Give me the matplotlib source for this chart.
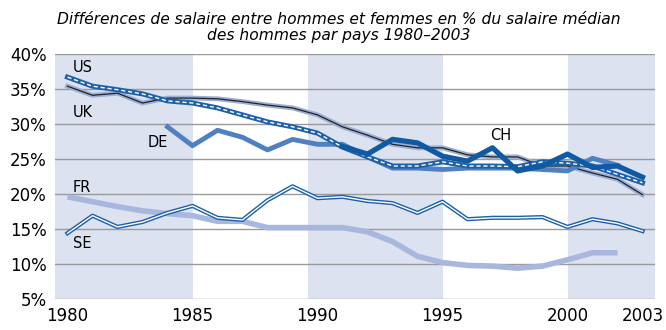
import matplotlib
matplotlib.use("Agg")
import matplotlib.pyplot as plt

# Données (en % du salaire médian des hommes)
annees = list(range(1980, 2004))
us = [36.7, 35.4, 34.9, 34.3, 33.3, 33.0, 32.3, 31.3, 30.3, 29.6, 28.7, 26.7,
      25.3, 24.0, 24.0, 24.6, 24.0, 24.0, 23.9, 24.6, 24.4, 24.0, 22.8, 21.6]
uk = [35.4, 34.1, 34.4, 33.0, 33.7, 33.7, 33.6, 33.2, 32.7, 32.3, 31.3, 29.6,
      28.4, 27.1, 26.6, 26.6, 25.6, 25.3, 25.3, 24.0, 24.0, 23.0, 22.1, 19.9]
annees_de = list(range(1984, 2003))
de = [29.6, 26.9, 29.1, 28.1, 26.3, 27.8, 27.1, 27.1, 25.3, 23.7, 23.7, 23.5,
      23.7, 23.7, 23.7, 23.5, 23.3, 25.1, 24.1]
annees_ch = list(range(1991, 2004))
ch = [26.8, 25.7, 27.8, 27.3, 25.4, 24.7, 26.6, 23.3, 24.0, 25.7, 23.8, 24.0, 22.4]
annees_fr = list(range(1980, 2003))
fr = [19.6, 18.9, 18.2, 17.6, 17.2, 16.9, 16.1, 16.1, 15.2, 15.2, 15.2, 15.2,
      14.6, 13.2, 11.1, 10.2, 9.8, 9.7, 9.4, 9.7, 10.6, 11.6, 11.6]
se = [14.4, 16.9, 15.3, 16.0, 17.3, 18.3, 16.6, 16.3, 19.1, 21.1, 19.4, 19.6,
      19.0, 18.7, 17.3, 18.9, 16.4, 16.6, 16.6, 16.7, 15.3, 16.4, 15.8, 14.7]

periodes = [(1979.5, 1985), (1989.6, 1995), (2000, 2003.5)]
graduations_x = [1980, 1985, 1990, 1995, 2000, 2003]
graduations_y = [5, 10, 15, 20, 25, 30, 35, 40]

fig = plt.figure(figsize=(6.66, 3.30), dpi=100)
ax = fig.add_axes([55 / 666, 31 / 330, 600 / 666, 245 / 330])

for debut, fin in periodes:
    ax.axvspan(debut, fin, color="#dce2ef", zorder=0, lw=0)
for v in graduations_y:
    ax.axhline(v, color="#9a9a9a", lw=1.0, zorder=1)

# FR : trait clair épais
ax.plot(annees_fr, fr, color="#a7b7de", lw=4, solid_capstyle="butt", zorder=2)
# SE : double trait (bleu avec coeur blanc)
ax.plot(annees, se, color="#1b60a8", lw=3.0, zorder=3)
ax.plot(annees, se, color="white", lw=1.0, zorder=3)
# UK : trait noir fin avec halo
ax.plot(annees, uk, color="#9cafd6", lw=3.5, zorder=3)
ax.plot(annees, uk, color="#222222", lw=0.9, zorder=3)
# DE
ax.plot(annees_de, de, color="#4f80c2", lw=3.5, zorder=4)
# US : bleu avec tirets blancs
ax.plot(annees, us, color="#1b60a8", lw=3.6, zorder=5)
ax.plot(annees, us, color="white", lw=1.0, ls=(0, (3, 2)), zorder=5)
# CH
ax.plot(annees_ch, ch, color="#0f5aa3", lw=3.8, zorder=6)

etiquettes = [("US", 1980.2, 38.0), ("UK", 1980.2, 31.6), ("DE", 1983.2, 27.4),
              ("CH", 1996.9, 28.3), ("FR", 1980.2, 20.9), ("SE", 1980.2, 13.0)]
for texte, x, y in etiquettes:
    ax.text(x, y, texte, fontsize=10.5, va="center", ha="left", zorder=7)

ax.set_xlim(1979.5, 2003.5)
ax.set_ylim(5, 40)
ax.set_xticks(graduations_x)
ax.set_yticks(graduations_y)
ax.set_yticklabels([f"{v}%" for v in graduations_y])
ax.tick_params(length=0, labelsize=12, pad=6)
for s in ax.spines.values():
    s.set_visible(False)

fig.text(0.508, 0.965, "Différences de salaire entre hommes et femmes en % du salaire médian\n"
         "des hommes par pays 1980–2003", ha="center", va="top",
         fontsize=11.2, style="italic", linespacing=1.15)

fig.savefig("out.png", dpi=100)
